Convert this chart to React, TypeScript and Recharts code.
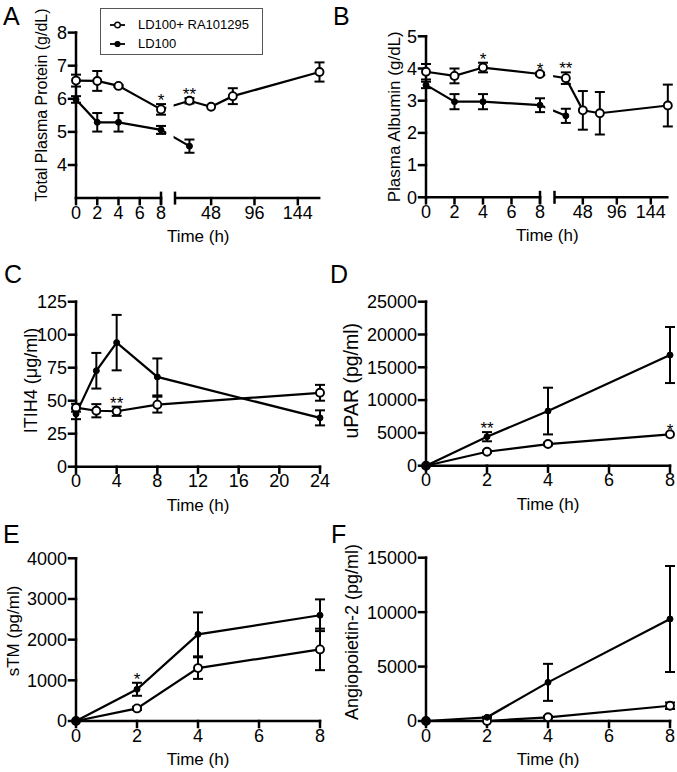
import { ErrorBar, Legend, Line, LineChart, ReferenceArea, ReferenceDot, ReferenceLine, XAxis, YAxis } from 'recharts';

const FONT = '"Liberation Sans", Arial, Helvetica, sans-serif';

// sampling times (h)
const timesLong = [0, 2, 4, 8, 24, 48, 72, 168];
const timesItih = [0, 2, 4, 8, 24];
const timesShort = [0, 2, 4, 8];

// A: total plasma protein (g/dL), mean and SEM
const proteinRa = [6.55, 6.54, 6.39, 5.68, 5.94, 5.76, 6.08, 6.81];
const proteinRaSem = [0.18, 0.3, 0.03, 0.16, 0.08, 0, 0.24, 0.29];
const proteinLd = [5.98, 5.29, 5.29, 5.06, 4.57];
const proteinLdSem = [0.1, 0.28, 0.28, 0.12, 0.2];

// B: plasma albumin (g/dL)
const albuminRa = [3.9, 3.77, 4.03, 3.83, 3.7, 2.7, 2.61, 2.85];
const albuminRaSem = [0.24, 0.23, 0.15, 0.04, 0.18, 0.6, 0.66, 0.65];
const albuminLd = [3.49, 2.97, 2.97, 2.86, 2.53];
const albuminLdSem = [0.1, 0.235, 0.235, 0.215, 0.22];

// C: ITIH4 (ug/ml)
const itihRa = [44.7, 42.4, 42, 47, 56];
const itihRaSem = [3, 5, 3.5, 6, 6];
const itihLd = [40, 72.7, 94, 68, 37];
const itihLdSem = [4, 13.5, 21, 14, 5.7];

// D: uPAR (pg/ml)
const uparRa = [0, 2130, 3300, 4780];
const uparRaSem = [0, 150, 200, 0];
const uparLd = [0, 4420, 8330, 16870];
const uparLdSem = [0, 700, 3560, 4270];

// E: sTM (pg/ml)
const stmRa = [0, 310, 1300, 1760];
const stmRaSem = [0, 40, 265, 510];
const stmLd = [0, 780, 2130, 2600];
const stmLdSem = [0, 160, 540, 390];

// F: angiopoietin-2 (pg/ml)
const angRa = [0, 0, 340, 1400];
const angRaSem = [0, 0, 100, 300];
const angLd = [0, 340, 3550, 9370];
const angLdSem = [0, 50, 1700, 4870];

// tick values
const brokenLeftTicks = [0, 2, 4, 6, 8];
const brokenRightTicks = [48, 96, 144];
const itihXTicks = [0, 4, 8, 12, 16, 20, 24];
const shortXTicks = [0, 2, 4, 6, 8];
const proteinTicks = [4, 5, 6, 7, 8];
const albuminTicks = [0, 1, 2, 3, 4, 5];
const itihTicks = [0, 25, 50, 75, 100, 125];
const uparTicks = [0, 5000, 10000, 15000, 20000, 25000];
const stmTicks = [0, 1000, 2000, 3000, 4000];
const angTicks = [0, 5000, 10000, 15000];

// significance marks, placed above the mean + SEM of a series
const proteinStars = [{ t: 8, s: 'ra', text: '*' }, { t: 24, s: 'ra', text: '**' }];
const albuminStars = [{ t: 4, s: 'ra', text: '*' }, { t: 8, s: 'ra', text: '*' }, { t: 24, s: 'ra', text: '**' }];
const itihStars = [{ t: 4, s: 'ra', text: '**' }];
const uparStars = [{ t: 2, s: 'ld', text: '**' }, { t: 8, s: 'ra', text: '*' }];
const stmStars = [{ t: 2, s: 'ld', text: '*' }];

// broken time axis: 0-8 h linear, then a second, compressed 8-168 h segment
type Broken = { restart: number; rate: number };
const SPLIT = 8;
const brokenA: Broken = { restart: 9.318, rate: 0.085 };
const brokenB: Broken = { restart: 9.018, rate: 0.0497 };
const toPos = (b: Broken | null, t: number) => (!b || t <= SPLIT ? t : b.restart + (t - SPLIT) * b.rate);

type Row = { t: number; x: number; ra?: number; raErr?: number; ld?: number; ldErr?: number };

function buildRows(times: number[], ra: number[], raErr: number[], ld: number[], ldErr: number[], b: Broken | null): Row[] {
  return times.map((t, i) => ({
    t,
    x: toPos(b, t),
    ra: ra[i],
    raErr: raErr[i] || undefined,
    ld: ld[i],
    ldErr: ldErr[i] || undefined,
  }));
}

const axisStyle = { stroke: '#000', strokeWidth: 2.5, strokeLinecap: 'square' as const };
const tickFont = { fontSize: 18, fill: '#000', fontFamily: FONT };

function YTitle({ viewBox, text, gap, shift, size }: any) {
  if (!viewBox) return null;
  const x = viewBox.x + viewBox.width - gap;
  const y = viewBox.y + viewBox.height / 2 + shift;
  return (
    <text x={x} y={y} transform={`rotate(-90 ${x} ${y})`} textAnchor="middle" fontSize={size} fontFamily={FONT} fill="#000">
      {text}
    </text>
  );
}

function StarLabel({ viewBox, text }: any) {
  if (!viewBox) return null;
  const x = viewBox.x + (viewBox.width || 0) / 2;
  const y = viewBox.y + (viewBox.height || 0) / 2 + 2;
  return (
    <text x={x} y={y} textAnchor="middle" fontSize={17} fontFamily={FONT} fill="#000">
      {text}
    </text>
  );
}

function LegendBox({ payload }: any) {
  const items = [...(payload || [])].sort((a: any, b: any) => (a.dataKey === 'ra' ? -1 : 0) - (b.dataKey === 'ra' ? -1 : 0));
  return (
    <div style={{ boxSizing: 'border-box', width: 163, height: 47, border: '1.3px solid #555', background: '#fff', padding: '7px 0 0 9px', fontFamily: FONT, fontSize: 13, color: '#000' }}>
      {items.map((entry: any) => {
        const open = entry.dataKey === 'ra';
        return (
          <div key={entry.dataKey} style={{ display: 'flex', alignItems: 'center', height: 18.5 }}>
            <svg width={15} height={10} style={{ marginRight: 13, display: 'block' }}>
              <line x1={0} y1={5} x2={15} y2={5} stroke="#000" strokeWidth={1.8} />
              <circle cx={7.5} cy={5} r={open ? 2.8 : 2.4} fill={open ? '#fff' : '#000'} stroke="#000" strokeWidth={1.4} />
            </svg>
            <span style={{ lineHeight: '18.5px' }}>{entry.value}</span>
          </div>
        );
      })}
    </div>
  );
}

type Box = { left: number; top: number; width: number; height: number };
type Plot = { left: number; top: number; right: number; bottom: number };
type PanelProps = {
  frame: Box;
  plot: Plot;
  rows: Row[];
  broken: Broken | null;
  xDomain: [number, number];
  xTicks: number[];
  xLabels?: Map<number, string>;
  yDomain: [number, number];
  yTicks: number[];
  title: { text: string; gap: number; shift: number; size: number };
  stars: { t: number; s: string; text: string }[];
  legend?: boolean;
};

function Panel({ frame, plot, rows, broken, xDomain, xTicks, xLabels, yDomain, yTicks, title, stars, legend }: PanelProps) {
  const margin = { top: plot.top - frame.top, right: frame.left + frame.width - plot.right, bottom: 0, left: 0 };
  const yWidth = plot.left - frame.left;
  const xHeight = frame.top + frame.height - plot.bottom;
  const pxX = (plot.right - plot.left) / (xDomain[1] - xDomain[0]);
  const pxY = (plot.bottom - plot.top) / (yDomain[1] - yDomain[0]);
  const [yMin, yMax] = yDomain;

  const extras: any[] = [];
  if (broken) {
    const bar = 6.5 / pxY;
    extras.push(
      <ReferenceArea key="gap" x1={SPLIT + 5.3 / pxX} x2={broken.restart - 1.4 / pxX} y1={yMin + 3 / pxY} y2={yMax} fill="#fff" fillOpacity={1} stroke="none" ifOverflow="visible" zIndex={450} />,
      <ReferenceLine key="segL" segment={[{ x: xDomain[0], y: yMin }, { x: SPLIT, y: yMin }]} stroke="#000" strokeWidth={2.5} strokeLinecap="square" ifOverflow="visible" zIndex={600} />,
      <ReferenceLine key="segR" segment={[{ x: broken.restart, y: yMin }, { x: xDomain[1], y: yMin }]} stroke="#000" strokeWidth={2.5} ifOverflow="visible" zIndex={600} />,
      <ReferenceLine key="endL" segment={[{ x: SPLIT, y: yMin - bar }, { x: SPLIT, y: yMin + bar }]} stroke="#000" strokeWidth={2.5} ifOverflow="visible" zIndex={600} />,
      <ReferenceLine key="endR" segment={[{ x: broken.restart, y: yMin - bar }, { x: broken.restart, y: yMin + bar }]} stroke="#000" strokeWidth={2.5} ifOverflow="visible" zIndex={600} />,
    );
  }

  return (
    <div style={{ position: 'absolute', left: frame.left, top: frame.top, width: frame.width, height: frame.height }}>
      <LineChart width={frame.width} height={frame.height} data={rows} margin={margin}>
        <XAxis
          type="number"
          dataKey="x"
          domain={xDomain}
          ticks={xTicks}
          interval={0}
          tickFormatter={(v: number) => (xLabels ? xLabels.get(v) ?? '' : String(v))}
          height={xHeight}
          tickSize={6}
          tickMargin={2}
          axisLine={broken ? false : axisStyle}
          tickLine={axisStyle}
          tick={tickFont}
        />
        <YAxis
          type="number"
          domain={yDomain}
          ticks={yTicks}
          interval={0}
          width={yWidth}
          tickSize={7}
          tickMargin={2}
          axisLine={axisStyle}
          tickLine={axisStyle}
          tick={tickFont}
          label={<YTitle text={title.text} gap={title.gap} shift={title.shift} size={title.size} />}
        />
        <Line
          type="linear"
          dataKey="ra"
          name="LD100+ RA101295"
          stroke="#000"
          strokeWidth={2.2}
          dot={{ r: 4, fill: '#fff', stroke: '#000', strokeWidth: 1.9 }}
          activeDot={false}
          isAnimationActive={false}
        >
          <ErrorBar dataKey="raErr" width={5} stroke="#000" strokeWidth={2} direction="y" isAnimationActive={false} />
        </Line>
        <Line
          type="linear"
          dataKey="ld"
          name="LD100"
          stroke="#000"
          strokeWidth={2.2}
          dot={{ r: 3, fill: '#000', stroke: '#000', strokeWidth: 1 }}
          activeDot={false}
          isAnimationActive={false}
        >
          <ErrorBar dataKey="ldErr" width={5} stroke="#000" strokeWidth={2} direction="y" isAnimationActive={false} />
        </Line>
        {extras}
        {stars.map((m) => {
          const row = rows.find((r) => r.t === m.t)!;
          const y = m.s === 'ra' ? (row.ra ?? 0) + (row.raErr ?? 0) : (row.ld ?? 0) + (row.ldErr ?? 0);
          return <ReferenceDot key={`${m.t}-${m.s}`} x={row.x} y={y} r={0} stroke="none" fill="none" ifOverflow="visible" zIndex={700} label={<StarLabel text={m.text} />} />;
        })}
        {legend && (
          <Legend layout="vertical" align="center" verticalAlign="middle" content={LegendBox} wrapperStyle={{ left: 100, top: 8, width: 163, height: 47 }} />
        )}
      </LineChart>
      <svg width={frame.width} height={frame.height} style={{ position: 'absolute', left: 0, top: 0, pointerEvents: 'none' }}>
        <text x={(plot.left + plot.right) / 2 - frame.left} y={plot.bottom - frame.top + 44} textAnchor="middle" fontSize={17} fontFamily={FONT} fill="#000">
          Time (h)
        </text>
      </svg>
    </div>
  );
}

function brokenTicks(b: Broken) {
  const ticks = [...brokenLeftTicks, ...brokenRightTicks.map((t) => toPos(b, t))];
  const labels = new Map<number, string>();
  brokenLeftTicks.forEach((t) => labels.set(t, String(t)));
  brokenRightTicks.forEach((t) => labels.set(toPos(b, t), String(t)));
  return { ticks, labels };
}

const letters = [
  { text: 'A', x: 3, y: 25 },
  { text: 'B', x: 333, y: 25 },
  { text: 'C', x: 4, y: 283 },
  { text: 'D', x: 330, y: 283 },
  { text: 'E', x: 3, y: 543 },
  { text: 'F', x: 331, y: 543 },
];

export default function App() {
  const axA = brokenTicks(brokenA);
  const axB = brokenTicks(brokenB);
  return (
    <div style={{ position: 'absolute', left: 0, top: 0, width: 677, height: 772, background: '#fff', fontFamily: FONT, overflow: 'hidden' }}>
      <style>{'body{margin:0}'}</style>
      <Panel
        frame={{ left: 0, top: 0, width: 337, height: 255 }}
        plot={{ left: 76, top: 32.6, right: 76 + 10.625 * toPos(brokenA, 169), bottom: 198.1 }}
        rows={buildRows(timesLong, proteinRa, proteinRaSem, proteinLd, proteinLdSem, brokenA)}
        broken={brokenA}
        xDomain={[0, toPos(brokenA, 169)]}
        xTicks={axA.ticks}
        xLabels={axA.labels}
        yDomain={[3, 8]}
        yTicks={proteinTicks}
        title={{ text: 'Total Plasma Protein (g/dL)', gap: 29, shift: -10.4, size: 16 }}
        stars={proteinStars}
        legend
      />
      <Panel
        frame={{ left: 337, top: 0, width: 340, height: 255 }}
        plot={{ left: 426, top: 36.3, right: 426 + 14.25 * toPos(brokenB, 169), bottom: 197.3 }}
        rows={buildRows(timesLong, albuminRa, albuminRaSem, albuminLd, albuminLdSem, brokenB)}
        broken={brokenB}
        xDomain={[0, toPos(brokenB, 169)]}
        xTicks={axB.ticks}
        xLabels={axB.labels}
        yDomain={[0, 5]}
        yTicks={albuminTicks}
        title={{ text: 'Plasma Albumin (g/dL)', gap: 26, shift: 0, size: 17 }}
        stars={albuminStars}
      />
      <Panel
        frame={{ left: 0, top: 258, width: 337, height: 260 }}
        plot={{ left: 76, top: 301.7, right: 320, bottom: 466.7 }}
        rows={buildRows(timesItih, itihRa, itihRaSem, itihLd, itihLdSem, null)}
        broken={null}
        xDomain={[0, 24]}
        xTicks={itihXTicks}
        yDomain={[0, 125]}
        yTicks={itihTicks}
        title={{ text: 'ITIH4 (μg/ml)', gap: 39, shift: -3.7, size: 18 }}
        stars={itihStars}
      />
      <Panel
        frame={{ left: 337, top: 258, width: 340, height: 260 }}
        plot={{ left: 426, top: 301.7, right: 670, bottom: 465.7 }}
        rows={buildRows(timesShort, uparRa, uparRaSem, uparLd, uparLdSem, null)}
        broken={null}
        xDomain={[0, 8]}
        xTicks={shortXTicks}
        yDomain={[0, 25000]}
        yTicks={uparTicks}
        title={{ text: 'uPAR (pg/ml)', gap: 68, shift: -3, size: 19.5 }}
        stars={uparStars}
      />
      <Panel
        frame={{ left: 0, top: 518, width: 337, height: 254 }}
        plot={{ left: 76, top: 558.3, right: 320, bottom: 721 }}
        rows={buildRows(timesShort, stmRa, stmRaSem, stmLd, stmLdSem, null)}
        broken={null}
        xDomain={[0, 8]}
        xTicks={shortXTicks}
        yDomain={[0, 4000]}
        yTicks={stmTicks}
        title={{ text: 'sTM (pg/ml)', gap: 57, shift: -8.7, size: 17 }}
        stars={stmStars}
      />
      <Panel
        frame={{ left: 337, top: 518, width: 340, height: 254 }}
        plot={{ left: 426, top: 557.7, right: 670, bottom: 721 }}
        rows={buildRows(timesShort, angRa, angRaSem, angLd, angLdSem, null)}
        broken={null}
        xDomain={[0, 8]}
        xTicks={shortXTicks}
        yDomain={[0, 15000]}
        yTicks={angTicks}
        title={{ text: 'Angiopoietin-2 (pg/ml)', gap: 68, shift: -7.4, size: 18 }}
        stars={[]}
      />
      <svg width={677} height={772} style={{ position: 'absolute', left: 0, top: 0, pointerEvents: 'none' }}>
        {letters.map((l) => (
          <text key={l.text} x={l.x} y={l.y} fontSize={25} fontFamily={FONT} fill="#000">
            {l.text}
          </text>
        ))}
      </svg>
    </div>
  );
}
